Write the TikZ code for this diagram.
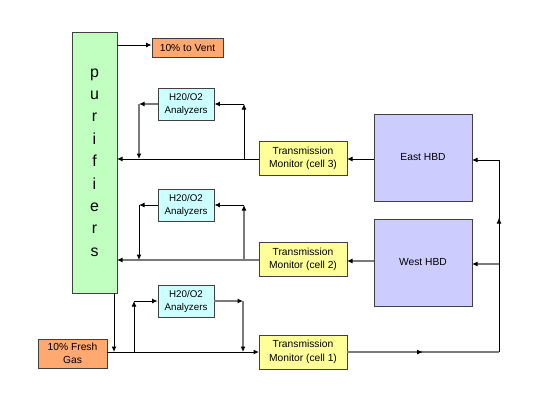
\documentclass[tikz,border=0pt]{standalone}
\usepackage{fontspec}
\setmainfont{Liberation Sans}
\usetikzlibrary{arrows.meta,decorations.markings}
\definecolor{purgreen}{HTML}{C0FFC0}
\definecolor{ventorange}{HTML}{FFA870}
\definecolor{anacyan}{HTML}{CCFFFF}
\definecolor{tmyellow}{HTML}{FFFF99}
\definecolor{hbdlav}{HTML}{CCCCFF}
\definecolor{linegray}{HTML}{7A7A7A}
\tikzset{
  box/.style={draw=black!75, line width=0.8bp, inner sep=0pt, align=center},
  smalltext/.style={font=\fontsize{10.3}{13.5}\selectfont},
  anatext/.style={font=\fontsize{9.8}{13}\selectfont},
  tip/.style={-{Latex[length=5.5bp,width=5bp,color=black]}},
  blk/.style={draw=black, line width=1bp},
  gry/.style={draw=linegray, line width=1.8bp},
  midarrow/.style={postaction={decorate},decoration={markings,
     mark=at position #1 with {\arrow{Latex[length=6bp,width=5bp,color=black]}}}}
}
\begin{document}
\begin{tikzpicture}[x=1bp,y=-1bp]
\useasboundingbox[fill=white] (0,0) rectangle (545,417);
% nodes
\node[box, fill=purgreen, minimum width=45bp, minimum height=261bp,
      font=\fontsize{16}{22.5}\selectfont] (pur) at (94.5,162.5)
      {p\\u\\r\\i\\f\\i\\e\\r\\s};
\node[box, fill=ventorange, minimum width=71bp, minimum height=19bp, smalltext] (vent) at (187.5,47.5) {10\% to Vent};
\node[box, fill=anacyan, minimum width=56bp, minimum height=32bp, anatext] (a3) at (186,104) {H20/O2\\Analyzers};
\node[box, fill=anacyan, minimum width=56bp, minimum height=32bp, anatext] (a2) at (186,205) {H20/O2\\Analyzers};
\node[box, fill=anacyan, minimum width=56bp, minimum height=32bp, anatext] (a1) at (186,301) {H20/O2\\Analyzers};
\node[box, fill=tmyellow, minimum width=88bp, minimum height=34bp, smalltext] (tm3) at (303,158.5) {Transmission\\Monitor (cell 3)};
\node[box, fill=tmyellow, minimum width=88bp, minimum height=34bp, smalltext] (tm2) at (303,259.5) {Transmission\\Monitor (cell 2)};
\node[box, fill=tmyellow, minimum width=88bp, minimum height=34bp, smalltext] (tm1) at (303,352) {Transmission\\Monitor (cell 1)};
\node[box, fill=hbdlav, minimum width=98bp, minimum height=87bp, smalltext] (east) at (423,157.5) {East HBD};
\node[box, fill=hbdlav, minimum width=98bp, minimum height=87bp, smalltext] (west) at (423,262.5) {West HBD};
\node[box, fill=ventorange, minimum width=69bp, minimum height=29bp, smalltext] (fresh) at (72.5,353.5) {10\% Fresh\\Gas};

% coordinates
\coordinate (v0) at (117,45);
\coordinate (b3) at (244,159);
\coordinate (u3) at (244,104);
\coordinate (l3) at (139,104);
\coordinate (d3) at (139,159);
\coordinate (p3) at (117,159);
\coordinate (b2) at (244,260);
\coordinate (u2) at (244,205);
\coordinate (l2) at (139,205);
\coordinate (d2) at (139,260);
\coordinate (p2) at (117,260);
\coordinate (pb) at (114,293);
\coordinate (pd) at (114,352);
\coordinate (f1) at (107,352);
\coordinate (c1) at (134,352);
\coordinate (c1u) at (134,301);
\coordinate (r1) at (243,301);
\coordinate (r1d) at (243,352);
\coordinate (t1) at (259,352);
\coordinate (t1e) at (347,352);
\coordinate (rc) at (499,352);
\coordinate (rt) at (499,160);
\coordinate (rw) at (499,264);
\coordinate (ee) at (472,160);
\coordinate (we) at (472,264);
\coordinate (ew) at (374,159);
\coordinate (t3e) at (347,159);
\coordinate (ww) at (374,261);
\coordinate (t2e) at (347,261);

% vent
\draw[blk,tip] (v0) -- (vent.west |- v0);
% cell 3 group
\draw[blk,tip] (tm3.west |- b3) -- (p3);
\draw[blk,tip] (b3) -- (u3);
\draw[blk,tip] (u3) -- (a3.east);
\draw[gry,tip] (a3.west) -- (l3);
\draw[gry,tip] (l3) -- (d3);
% cell 2 group
\draw[gry,tip] (tm2.west |- b2) -- (p2);
\draw[gry,tip] (b2) -- (u2);
\draw[blk,tip] (u2) -- (a2.east);
\draw[blk,tip] (a2.west) -- (l2);
\draw[blk,tip] (l2) -- (d2);
% cell 1 group
\draw[blk,tip] (pb) -- (pd);
\draw[blk,tip] (f1) -- (t1);
\draw[blk,tip] (c1) -- (c1u);
\draw[blk,tip] (c1u) -- (a1.west);
\draw[gry,tip] (a1.east) -- (r1);
\draw[gry,tip] (r1) -- (r1d);
% right side return
\draw[gry,midarrow=0.5] (t1e) -- (rc);
\draw[blk,midarrow=0.7] (rc) -- (rt);
\draw[blk,tip] (rt) -- (ee);
\draw[gry,tip] (rw) -- (we);
\draw[blk,tip] (ew) -- (t3e);
\draw[gry,tip] (ww) -- (t2e);
\end{tikzpicture}
\end{document}
